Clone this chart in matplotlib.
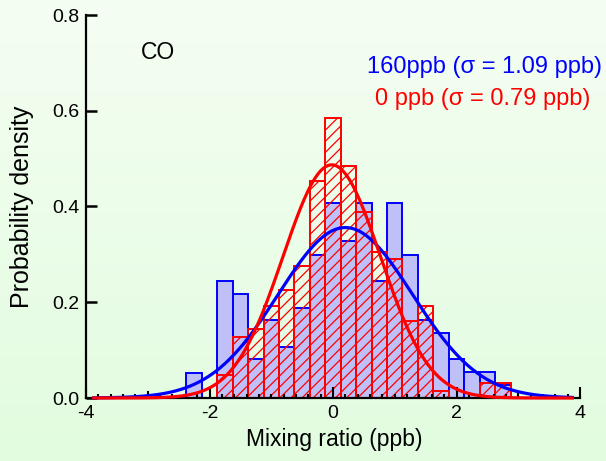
import numpy as np
import matplotlib
matplotlib.use("Agg")
import matplotlib.pyplot as plt
from matplotlib.ticker import MultipleLocator, FixedLocator

# ---------------- data ----------------
bin_centers = [-2.25, -2.0, -1.75, -1.5, -1.25, -1.0, -0.75, -0.5, -0.25, 0.0,
               0.25, 0.5, 0.75, 1.0, 1.25, 1.5, 1.75, 2.0, 2.25, 2.5, 2.75]
bin_width = 0.25
density_160ppb = [0.053, 0.0, 0.244, 0.217, 0.081, 0.163, 0.107, 0.189, 0.299, 0.408,
                  0.327, 0.408, 0.245, 0.408, 0.299, 0.163, 0.136, 0.082, 0.054, 0.054, 0.027]
density_0ppb = [0.0, 0.0, 0.047, 0.128, 0.145, 0.193, 0.226, 0.276, 0.454, 0.584,
                0.485, 0.388, 0.306, 0.290, 0.161, 0.193, 0.015, 0.0, 0.0, 0.031, 0.031]
# Gaussian fits: amplitude, mean, sigma
fit_160ppb = (0.356, 0.20, 1.09)
fit_0ppb = (0.487, -0.02, 0.79)
fit_range = (-3.9, 3.9)
label_160ppb = "160ppb (σ = 1.09 ppb)"
label_0ppb = "0 ppb (σ = 0.79 ppb)"
species = "CO"
x_ticks = [-4, -2, 0, 2, 4]
y_ticks = [0.0, 0.2, 0.4, 0.6, 0.8]

# ---------------- style ----------------
plt.rcParams['font.family'] = ['Liberation Sans', 'DejaVu Sans']
plt.rcParams['hatch.linewidth'] = 0.9

W, H = 606, 461
fig = plt.figure(figsize=(W / 100, H / 100), dpi=100)

# gradient background
bg = fig.add_axes([0, 0, 1, 1], zorder=-10)
top = np.array([0.96, 0.995, 0.95])
bot = np.array([0.885, 0.99, 0.875])
t = np.linspace(0, 1, 256)[:, None]
grad = (top[None, :] * (1 - t) + bot[None, :] * t)[:, None, :]
bg.imshow(grad, aspect='auto', extent=[0, 1, 0, 1])
bg.set_axis_off()

def px(x0, y0, x1, y1):
    return [x0 / W, 1 - y1 / H, (x1 - x0) / W, (y1 - y0) / H]

ax = fig.add_axes(px(86, 15, 580, 398))
ax.set_facecolor('none')

blue = '#0000ff'
red = '#ff0000'

ax.bar(bin_centers, density_160ppb, width=bin_width, color='#c0c0f8',
       edgecolor=blue, linewidth=1.4, zorder=1)
ax.bar(bin_centers, density_0ppb, width=bin_width, facecolor='none',
       edgecolor=red, linewidth=1.4, hatch='///', zorder=1.5)

xs = np.linspace(fit_range[0], fit_range[1], 400)
for (a, m, s), c in ((fit_160ppb, blue), (fit_0ppb, red)):
    ax.plot(xs, a * np.exp(-(xs - m) ** 2 / (2 * s ** 2)), color=c, lw=2.3,
            zorder=3, clip_on=False, solid_capstyle='butt')

ax.set_xlim(-4, 4)
ax.set_ylim(0, 0.8)
ax.spines['top'].set_visible(False)
ax.spines['right'].set_visible(False)
for sp in ('left', 'bottom'):
    ax.spines[sp].set_linewidth(1.6)

ax.set_xticks(x_ticks)
ax.set_xticklabels([str(v) for v in x_ticks])
ax.set_yticks(y_ticks)
ax.set_yticklabels([f"{v:.1f}" for v in y_ticks])
ax.xaxis.set_minor_locator(MultipleLocator(0.2))
ax.tick_params(axis='x', which='major', direction='in', length=8, width=1.5,
               labelsize=14, pad=5)
ax.tick_params(axis='x', which='minor', direction='in', length=3, width=1.5)
ax.tick_params(axis='y', which='major', direction='in', length=8, width=1.8,
               labelsize=14, pad=5)

sec = ax.secondary_xaxis('bottom')
sec.xaxis.set_major_locator(FixedLocator([-3, -1, 1, 3]))
sec.tick_params(direction='in', length=5, width=1.5, labelbottom=False)
sec.spines['bottom'].set_visible(False)

ax.set_xlabel("Mixing ratio (ppb)", fontsize=16.5)
ax.xaxis.label.set_va('baseline')
ax.xaxis.set_label_coords((334.4 - 86) / 494, (398 - 445.7) / 383)
ax.set_ylabel("Probability density", fontsize=18)
ax.yaxis.label.set_va('center')
ax.yaxis.set_label_coords((22 - 86) / 494, (398 - 207) / 383)

fig.text(140.7 / W, 1 - 59.3 / H, species, fontsize=16.5, ha='left', va='baseline')
fig.text(601.7 / W, 1 - 73.3 / H, label_160ppb, color=blue, fontsize=17,
         ha='right', va='baseline')
fig.text(590 / W, 1 - 105 / H, label_0ppb, color=red, fontsize=17,
         ha='right', va='baseline')

fig.savefig('out.png', dpi=100)
